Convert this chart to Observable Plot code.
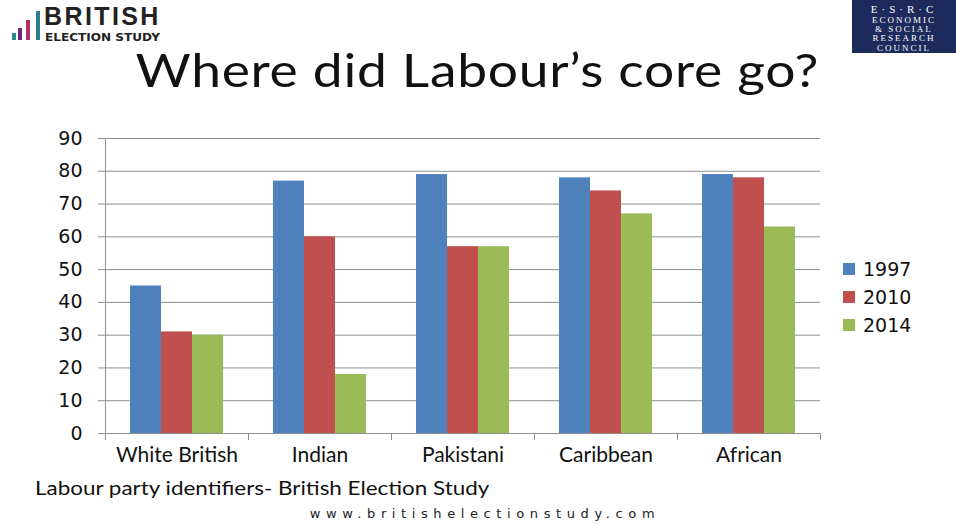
<!DOCTYPE html>
<html><head><meta charset="utf-8">
<script src="https://cdn.jsdelivr.net/npm/d3@7"></script>
<script src="https://cdn.jsdelivr.net/npm/@observablehq/plot@0.6"></script>
<style>
body{margin:0;background:#fff;width:956px;height:525px;position:relative;overflow:hidden;font-family:Lato,sans-serif;color:#000;}
#logo{position:absolute;left:0;top:0;width:200px;height:50px;}
.lb{position:absolute;width:4px;}
#brit{position:absolute;left:44px;top:4px;font:bold 25px "Liberation Sans",sans-serif;line-height:24px;letter-spacing:2.4px;color:#222;}
#es{position:absolute;left:45px;top:32px;font:bold 11px "DejaVu Sans Condensed","Liberation Sans",sans-serif;line-height:11px;color:#222;transform:scaleX(1.22);transform-origin:left;}
#esrc{position:absolute;left:852px;top:0;width:104px;height:53px;background:#1d2b5c;color:#fff;font-family:"Liberation Serif",serif;text-align:center;overflow:hidden;}
#esrc .l1{font-size:11px;letter-spacing:4px;line-height:11px;margin-top:4px;margin-bottom:1px;}
#esrc .l2{font-size:9px;line-height:9.2px;letter-spacing:2px;}
#title{position:absolute;left:0;width:956px;top:47px;text-align:center;font-size:46px;line-height:46px;font-family:Lato,sans-serif;color:#111;letter-spacing:0.6px;transform:scaleX(1.16);transform-origin:482px 0;}
#chart{position:absolute;left:0;top:120px;}
#legend{position:absolute;left:843px;top:255px;font-family:"DejaVu Sans",sans-serif;font-size:19px;color:#111;}
.li{height:28px;display:flex;align-items:center;}
.sw{width:12px;height:12px;margin-right:8px;}
#caption{position:absolute;left:35px;top:476px;font-size:19.5px;font-family:Lato,sans-serif;color:#111;transform:scaleX(1.15);transform-origin:left;}
#url{position:absolute;left:0;width:970px;top:506px;text-align:center;font-size:13px;letter-spacing:5.6px;font-family:"DejaVu Sans",sans-serif;color:#222;}
</style></head><body>
<div id="logo">
  <div class="lb" style="left:12px;top:33px;height:7px;background:#2a8a8a"></div>
  <div class="lb" style="left:18px;top:28px;height:12px;background:#6a2a7a"></div>
  <div class="lb" style="left:26px;top:20px;height:20px;background:#b0306a"></div>
  <div class="lb" style="left:36px;top:11px;height:29px;background:#2a7f8f"></div>
  <div id="brit">BRITISH</div>
  <div id="es">ELECTION STUDY</div>
</div>
<div id="esrc"><div class="l1">E·S·R·C</div><div class="l2">ECONOMIC<br>&amp; SOCIAL<br>RESEARCH<br>COUNCIL</div></div>
<div id="title">Where did Labour’s core go?</div>
<div id="chart"></div>
<div id="legend"></div>
<div id="caption">Labour party identifiers- British Election Study</div>
<div id="url">www.britishelectionstudy.com</div>
<script>
const categories = ["White British", "Indian", "Pakistani", "Caribbean", "African"];
const years = ["1997", "2010", "2014"];
const v1997 = [45, 77, 79, 78, 79];
const v2010 = [31, 60, 57, 74, 78];
const v2014 = [30, 18, 57, 67, 63];
const colors = ["#4f81bd", "#c0504d", "#9bbb59"];
const yTicks = [0, 10, 20, 30, 40, 50, 60, 70, 80, 90];

const series = [v1997, v2010, v2014];
const data = categories.flatMap((c, i) => series.map((s, j) => ({category: c, year: years[j], value: s[i]})));

const gridColor = "#8f8f8f";
const chart = Plot.plot({
  width: 956,
  height: 353,
  marginLeft: 104,
  marginRight: 136,
  marginTop: 18,
  marginBottom: 40,
  style: {fontFamily: "DejaVu Sans, sans-serif", background: "transparent", color: "#111"},
  fx: {domain: categories, padding: 0, label: null, axis: null},
  x: {domain: years, paddingInner: 0, paddingOuter: 0.8, axis: null},
  y: {domain: [0, 90], label: null, axis: null},
  color: {domain: years, range: colors},
  marks: [
    Plot.gridY(yTicks, {stroke: gridColor, strokeOpacity: 1}),
    Plot.barY(data, {fx: "category", x: "year", y: "value", fill: "year"}),
    Plot.ruleY([0], {stroke: gridColor}),
    Plot.frame({anchor: "left", facetAnchor: "left", stroke: gridColor}),
    Plot.frame({anchor: "left", stroke: gridColor, insetTop: 295, insetBottom: -6}),
    Plot.frame({anchor: "right", stroke: gridColor, insetTop: 295, insetBottom: -6}),
    Plot.axisY(yTicks, {tickSize: 7, tickPadding: 16, fontSize: 19, stroke: gridColor, label: null}),
    Plot.axisFx({anchor: "bottom", tickSize: 0, tickPadding: 14, fontSize: 21, fontFamily: "Lato, sans-serif", label: null})
  ]
});
document.getElementById("chart").appendChild(chart);

const legend = document.getElementById("legend");
years.forEach((y, i) => {
  const row = document.createElement("div");
  row.className = "li";
  row.innerHTML = `<div class="sw" style="background:${colors[i]}"></div><span>${y}</span>`;
  legend.appendChild(row);
});
</script>
</body></html>
